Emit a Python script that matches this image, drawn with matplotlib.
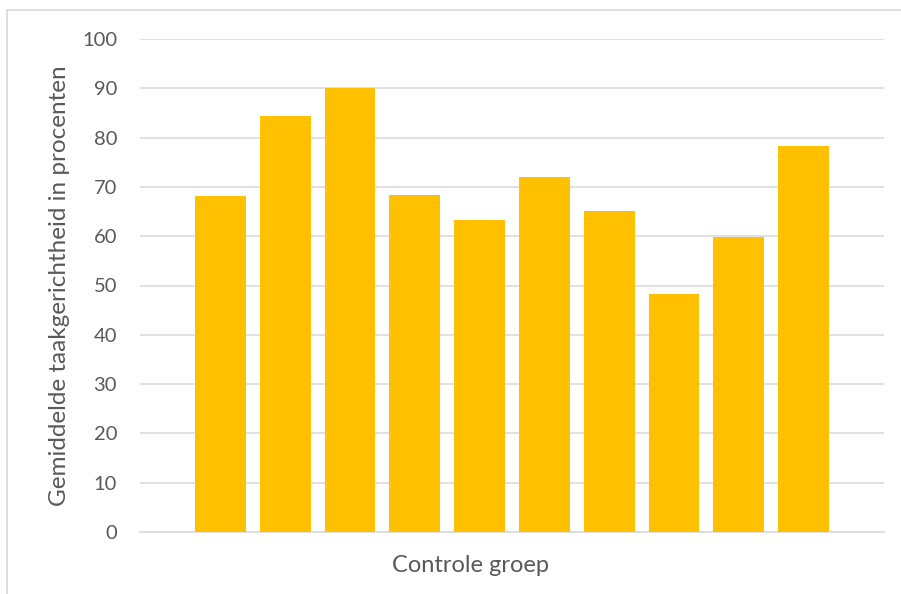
import matplotlib
matplotlib.use("Agg")
import matplotlib.pyplot as plt
from matplotlib.lines import Line2D

plt.rcParams['font.family'] = ['Lato', 'DejaVu Sans']

values = [68.1, 84.4, 90.1, 68.3, 63.2, 72.0, 65.1, 48.3, 59.9, 78.2]
yticks = [0, 10, 20, 30, 40, 50, 60, 70, 80, 90, 100]
xlabel = "Controle groep"
ylabel = "Gemiddelde taakgerichtheid in procenten"

W, H = 901, 594
fig = plt.figure(figsize=(W / 100, H / 100), dpi=100)
ax_l, ax_r, ax_t, ax_b = 140, 884, 39, 532
ax = fig.add_axes([ax_l / W, 1 - ax_b / H, (ax_r - ax_l) / W, (ax_b - ax_t) / H])

grid_c = '#D9D9D9'
text_c = '#595959'
bar_c = '#FFC000'

ax.bar(range(len(values)), values, width=0.785, color=bar_c, zorder=3)
ax.set_xlim(-1.24, len(values) - 1 + 1.24)
ax.set_ylim(0, 100)
ax.set_yticks(yticks)
ax.set_xticks([])
ax.yaxis.grid(True, color=grid_c, linewidth=1.1, zorder=0)
for s in ['top', 'right', 'left']:
    ax.spines[s].set_visible(False)
ax.spines['bottom'].set_color(grid_c)
ax.spines['bottom'].set_linewidth(1.1)
ax.tick_params(axis='y', length=0, pad=16.5, labelsize=14.5, labelcolor=text_c)
ax.set_ylabel(ylabel, fontsize=17.5, color=text_c, va='center')
ax.yaxis.set_label_coords((60 - ax_l) / (ax_r - ax_l), 0.5)
ax.set_xlabel(xlabel, fontsize=17, color=text_c, va='center')
ax.xaxis.set_label_coords((471 - ax_l) / (ax_r - ax_l), (ax_b - 566) / (ax_b - ax_t))

# figure border (top and left visible)
fig.add_artist(Line2D([7 / W, 1], [1 - 9.5 / H, 1 - 9.5 / H], color=grid_c, linewidth=1.2, transform=fig.transFigure))
fig.add_artist(Line2D([7 / W, 7 / W], [0, 1 - 9.5 / H], color=grid_c, linewidth=1.2, transform=fig.transFigure))

fig.savefig("out.png", dpi=100)
